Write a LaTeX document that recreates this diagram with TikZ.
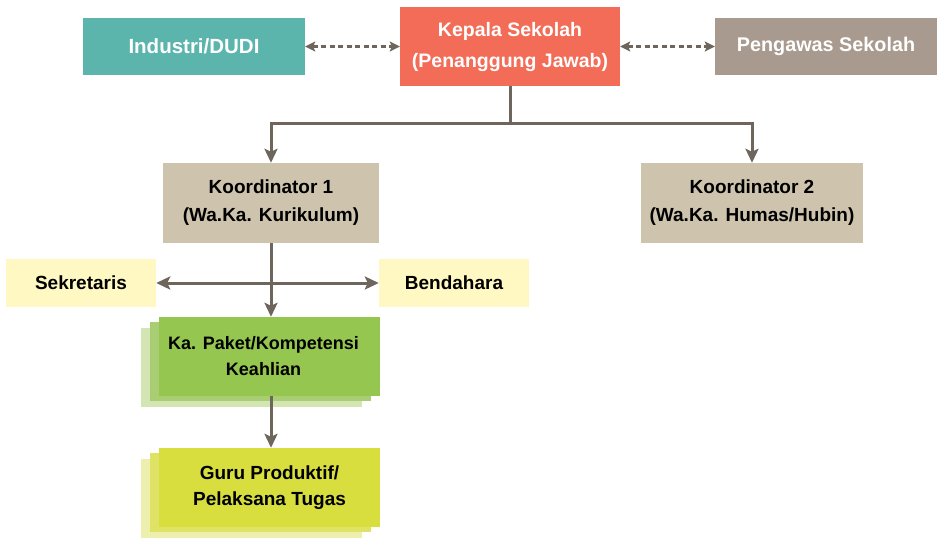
\documentclass[tikz,border=0pt]{standalone}
\usepackage{fontspec}
\setmainfont{Liberation Sans}
\usetikzlibrary{arrows.meta}
\definecolor{kepalaRed}{HTML}{F26C57}
\definecolor{dudiTeal}{HTML}{5BB5AC}
\definecolor{pengawasGrey}{HTML}{A89A8E}
\definecolor{koordTan}{HTML}{CEC4AE}
\definecolor{stafYellow}{HTML}{FFF8C2}
\definecolor{paketGreen}{HTML}{95C64F}
\definecolor{paketMid}{HTML}{A9CD72}
\definecolor{paketLight}{HTML}{D2E5B2}
\definecolor{guruLime}{HTML}{D7DE3E}
\definecolor{guruMid}{HTML}{DEE265}
\definecolor{guruLight}{HTML}{ECEFAE}
\definecolor{lineGrey}{HTML}{6E655D}
\begin{document}
\begin{tikzpicture}[x=1pt,y=-1pt,
 box/.style={inner sep=0pt,align=center,font=\bfseries\fontsize{19}{28}\selectfont},
 topbox/.style={box,text=white,minimum width=222pt,minimum height=57pt},
 koordbox/.style={box,fill=koordTan,minimum height=80pt},
 stafbox/.style={box,fill=stafYellow,minimum width=150pt,minimum height=48pt},
 unitbox/.style={box,minimum width=221pt,minimum height=79pt},
 link/.style={lineGrey,line width=3pt},
 arr/.style={link,-{Stealth[length=14pt,width=13pt,inset=3pt]}},
 dasharr/.style={lineGrey,line width=2.6pt,dash pattern=on 5pt off 3.5pt,
   {Stealth[length=10pt,width=10pt,inset=2pt]}-{Stealth[length=10pt,width=10pt,inset=2pt]}}]
\useasboundingbox (0,0) rectangle (937,539);

\node[topbox,fill=dudiTeal,font=\bfseries\fontsize{20.5}{28}\selectfont] (dudi) at (194,46.5) {Industri/DUDI};
\node[topbox,fill=kepalaRed,minimum width=220pt,minimum height=79pt,
  font=\bfseries\fontsize{19.5}{31}\selectfont] (kepala) at (510,46.5)
  {Kepala Sekolah\\(Penanggung Jawab)};
\node[topbox,fill=pengawasGrey,font=\bfseries\fontsize{19.8}{28}\selectfont] (pengawas) at (826,46.5) {Pengawas Sekolah};

\node[koordbox,minimum width=216pt] (koord1) at (271,203) {Koordinator 1\\(Wa.Ka. Kurikulum)};
\node[koordbox,minimum width=222pt] (koord2) at (752,203) {Koordinator 2\\(Wa.Ka. Humas/Hubin)};

\node[stafbox] (sekretaris) at (81,283) {Sekretaris};
\node[stafbox] (bendahara) at (454,283) {Bendahara};

\fill[paketLight] (141,328) rectangle (362,407);
\fill[paketMid] (150,322) rectangle (371,401);
\node[unitbox,fill=paketGreen,font=\bfseries\fontsize{18}{26}\selectfont] (paket) at (269.5,356.5)
  {Ka. Paket/Kompetensi\hspace*{12pt}\\Keahlian\hspace*{12pt}};
\fill[guruLight] (141,459) rectangle (362,538);
\fill[guruMid] (150,453) rectangle (371,532);
\node[unitbox,fill=guruLime,font=\bfseries\fontsize{19}{26}\selectfont] (guru) at (269.5,487.5)
  {Guru Produktif/\\Pelaksana Tugas};

\coordinate (cabang) at (510,123);
\draw[dasharr] (dudi) -- (kepala);
\draw[dasharr] (kepala) -- (pengawas);
\draw[link] (kepala.south) -- (cabang);
\draw[arr] (cabang) -| (koord1.north);
\draw[arr] (cabang) -| (koord2.north);
\draw[arr] (koord1.south) -- (koord1.south |- paket.north);
\draw[arr,{Stealth[length=14pt,width=13pt,inset=3pt]}-{Stealth[length=14pt,width=13pt,inset=3pt]}]
  (sekretaris.east) -- (bendahara.west);
\draw[arr] (paket.south -| koord1) -- (guru.north -| koord1);
\end{tikzpicture}
\end{document}
